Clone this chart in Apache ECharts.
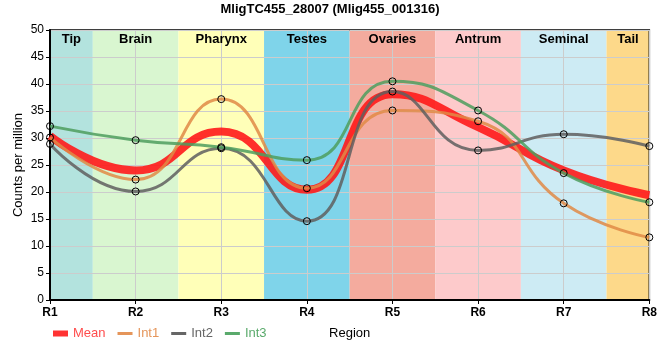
<!DOCTYPE html>
<html>
<head>
<meta charset="utf-8">
<script src="https://cdn.jsdelivr.net/npm/echarts@6/dist/echarts.min.js"></script>
<style>html,body{margin:0;padding:0;background:#fff;}#c{width:660px;height:360px;}</style>
</head>
<body>
<div id="c"></div>
<script>
var categories = ['R1','R2','R3','R4','R5','R6','R7','R8'];
var regionNames = ['Tip','Brain','Pharynx','Testes','Ovaries','Antrum','Seminal','Tail'];
var regionColors = ['#b3e3de','#d9f6d0','#ffffb8','#7fd4ea','#f4ab9e','#fdcacb','#cdebf4','#fdd98a'];
var meanValues = [30.4, 24.0, 31.2, 20.4, 38.1, 32.0, 24.0, 19.4];
var int1Values = [30.1, 22.3, 37.2, 20.7, 35.1, 33.1, 17.9, 11.6];
var int2Values = [28.9, 20.1, 28.1, 14.6, 38.6, 27.7, 30.7, 28.5];
var int3Values = [32.2, 29.6, 28.3, 25.9, 40.5, 35.1, 23.5, 18.1];
var yTicks = [0, 5, 10, 15, 20, 25, 30, 35, 40, 45, 50];

function pts(arr){ return arr.map(function(v,i){ return [i, v]; }); }

function bandData(withFill){
  return regionNames.map(function(name, i){
    var a = Math.max(0, i - 0.5), b = Math.min(categories.length - 1, i + 0.5);
    return [{xAxis: a, name: name, itemStyle: {color: withFill ? regionColors[i] : 'rgba(0,0,0,0)', opacity: 1}}, {xAxis: b}];
  });
}

var thinIcon = 'path://M0,0L0.01,0L0.01,0.01Z M0,1.6L15,1.6L15,4.4L0,4.4Z M0,6L0.01,6L0.01,5.99Z';

var chart = echarts.init(document.getElementById('c'));
var lineSeries = function(name, data, color, width, showSym, opacity){
  return {
    name: name, type: 'line', data: pts(data), smooth: true,
    symbol: 'circle', symbolSize: 7, showSymbol: showSym,
    lineStyle: {color: color, width: width, opacity: opacity},
    itemStyle: {color: 'rgba(0,0,0,0)', borderColor: '#000', borderWidth: 1},
    emphasis: {disabled: true},
    z: 3
  };
};
chart.setOption({
  animation: false,
  title: {text: 'MligTC455_28007 (Mlig455_001316)', left: 'center', top: -2,
    textStyle: {fontFamily: 'Liberation Sans', fontWeight: 'bold', fontSize: 13, color: '#000'}},
  grid: {left: 50, right: 10, top: 30, bottom: 60, show: true, borderColor: '#000', borderWidth: 1.5, backgroundColor: 'transparent'},
  legend: {
    left: 48, top: 322, itemWidth: 15, itemHeight: 6, itemGap: 12,
    textStyle: {fontFamily: 'Liberation Sans', fontSize: 13},
    data: [
      {name: 'Mean', icon: 'rect', itemStyle: {color: '#ff3333', borderWidth: 0}, textStyle: {color: '#ff4d4d'}},
      {name: 'Int1', icon: thinIcon, itemStyle: {color: '#e5955a', borderWidth: 0}, textStyle: {color: '#e5955a'}},
      {name: 'Int2', icon: thinIcon, itemStyle: {color: '#666', borderWidth: 0}, textStyle: {color: '#666'}},
      {name: 'Int3', icon: thinIcon, itemStyle: {color: '#5aaa6c', borderWidth: 0}, textStyle: {color: '#5aaa6c'}}
    ]
  },
  xAxis: {
    type: 'value', min: 0, max: categories.length - 1, interval: 1, z: 2,
    name: 'Region', nameLocation: 'middle', nameGap: 27, nameMoveOverlap: false,
    nameTextStyle: {fontFamily: 'Liberation Sans', fontSize: 13, color: '#000'},
    axisLine: {lineStyle: {color: '#000', width: 2}},
    axisTick: {show: true, length: 4, lineStyle: {color: '#000'}},
    axisLabel: {formatter: function(v){ return categories[v] || ''; }, fontFamily: 'Liberation Sans', fontWeight: 'bold', fontSize: 12, color: '#000', margin: 7},
    splitLine: {show: true, lineStyle: {color: '#ccc', width: 1}}
  },
  yAxis: {
    type: 'value', min: yTicks[0], max: yTicks[yTicks.length - 1], interval: 5, z: 2,
    name: 'Counts per million', nameLocation: 'middle', nameGap: 25, nameMoveOverlap: false,
    nameTextStyle: {fontFamily: 'Liberation Sans', fontSize: 13, color: '#000'},
    axisLine: {show: true, lineStyle: {color: '#000', width: 2}},
    axisTick: {show: true, length: 4, lineStyle: {color: '#000'}},
    axisLabel: {fontFamily: 'Liberation Sans', fontSize: 12, color: '#000', margin: 6},
    splitLine: {show: true, lineStyle: {color: '#ccc', width: 1}}
  },
  series: [
    {
      name: 'bands', type: 'line', data: [], z: -1, silent: true,
      markArea: {silent: true, z: -1, label: {show: false}, data: bandData(true)}
    },
    {
      name: 'bandLabels', type: 'line', data: [], z: 4, silent: true,
      markArea: {
        silent: true, z: 4,
        label: {show: true, position: 'insideTop', distance: 3, color: '#000', fontFamily: 'Liberation Sans', fontWeight: 'bold', fontSize: 13},
        data: bandData(false)
      }
    },
    lineSeries('Mean', meanValues, '#ff1a1a', 8, false, 0.9),
    lineSeries('Int1', int1Values, '#e08a45', 3, true, 0.85),
    lineSeries('Int2', int2Values, '#5f5f5f', 3, true, 0.85),
    lineSeries('Int3', int3Values, '#4e9e5e', 3, true, 0.85)
  ]
});
</script>
</body>
</html>
